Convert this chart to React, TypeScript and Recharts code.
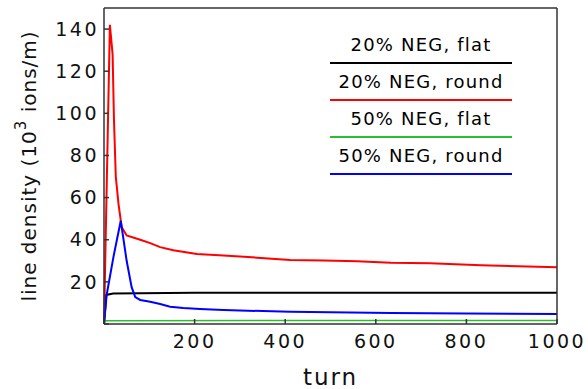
import React from "react";
import {
  LineChart,
  Line,
  XAxis,
  YAxis,
  Legend,
} from "recharts";

// values (turn, 10^3 ions/m)
const flat20Turn = [0, 5, 20, 200, 600, 1000];
const flat20Value = [0, 13.8, 14.5, 14.8, 14.8, 14.8];

const round20Turn = [0, 13, 19, 22, 26, 32, 39, 50, 80, 102, 124, 153, 205, 264, 338, 411, 485, 559, 633, 720, 832, 1000];
const round20Value = [0, 142, 128, 97, 70, 57, 46, 42, 40, 38.4, 36.5, 35, 33.2, 32.5, 31.5, 30.4, 30.2, 29.8, 29.1, 28.8, 27.9, 26.9];

const flat50Turn = [0, 3, 500, 1000];
const flat50Value = [0, 1.6, 1.7, 1.7];

const round50Turn = [0, 6, 21, 37, 50, 61, 69, 80, 102, 124, 146, 175, 212, 264, 411, 633, 800, 1000];
const round50Value = [0, 14, 32, 49, 30, 17.5, 12.8, 11.4, 10.6, 9.5, 8.2, 7.6, 7.1, 6.6, 5.8, 5.2, 5.0, 4.8];

const xTicks = [0, 200, 400, 600, 800, 1000];
const yTicks = [0, 20, 40, 60, 80, 100, 120, 140];

const toPoints = (turns: number[], values: number[]) =>
  turns.map((t, i) => ({ turn: t, value: values[i] }));

const series = [
  { name: "20% NEG, flat", color: "#000000", width: 2, data: toPoints(flat20Turn, flat20Value) },
  { name: "20% NEG, round", color: "#ff0000", width: 2, data: toPoints(round20Turn, round20Value) },
  { name: "50% NEG, flat", color: "#2dbe2d", width: 1.5, data: toPoints(flat50Turn, flat50Value) },
  { name: "50% NEG, round", color: "#0000ff", width: 2, data: toPoints(round50Turn, round50Value) },
];

const font = "'DejaVu Sans', sans-serif";
const frame = "#333";
const tickStyle = { fill: "#111", fontSize: 19, fontFamily: font, letterSpacing: 2.5 };
const hideZero = (v: number) => (v === 0 ? "" : String(v));
const blank = () => "";

const YLabel = (props: any) => {
  const { viewBox } = props;
  const cx = viewBox.x + 29;
  const cy = viewBox.y + viewBox.height / 2;
  return (
    <text
      x={cx}
      y={cy}
      transform={`rotate(-90, ${cx}, ${cy})`}
      textAnchor="middle"
      dominantBaseline="central"
      fontFamily={font}
      fontSize={20}
      letterSpacing={1}
      fill="#111"
    >
      line density (10
      <tspan dy={-8} fontSize={15}>3</tspan>
      <tspan dy={8}> ions/m)</tspan>
    </text>
  );
};

// legend rows: label centred above a coloured rule
const LegendBox = () => (
  <div style={{ width: 182, fontFamily: font, fontSize: 18, letterSpacing: 1.2, color: "#000" }}>
    {series.map((s) => (
      <div key={s.name}>
        <div
          style={{
            height: 35,
            display: "flex",
            alignItems: "center",
            justifyContent: "center",
          }}
        >
          {s.name}
        </div>
        <div style={{ height: 2, background: s.color }} />
      </div>
    ))}
  </div>
);

export default function App() {
  return (
    <div style={{ position: "absolute", left: 0, top: 0, background: "#fff" }}>
      <LineChart width={588} height={389} margin={{ top: 7, right: 30, left: 0, bottom: 0 }}>
        <XAxis
          dataKey="turn"
          type="number"
          domain={[0, 1000]}
          ticks={xTicks}
          tickFormatter={hideZero}
          tick={tickStyle}
          tickSize={-5}
          tickMargin={16}
          height={65}
          stroke={frame}
          strokeWidth={1.5}
          tickLine={{ stroke: frame }}
          label={{ value: "turn", position: "insideBottom", offset: 4, fontSize: 23, fontFamily: font, letterSpacing: 2, fill: "#111" }}
        />
        <XAxis
          xAxisId="top"
          orientation="top"
          dataKey="turn"
          type="number"
          domain={[0, 1000]}
          ticks={xTicks}
          tickFormatter={blank}
          tickSize={-5}
          height={1}
          stroke={frame}
          strokeWidth={1.5}
        />
        <YAxis
          type="number"
          domain={[0, 150]}
          ticks={yTicks}
          tickFormatter={hideZero}
          tick={tickStyle}
          tickSize={-5}
          tickMargin={10}
          width={104}
          stroke={frame}
          strokeWidth={1.5}
          label={{ content: <YLabel /> }}
        />
        <YAxis
          yAxisId="right"
          orientation="right"
          type="number"
          domain={[0, 150]}
          ticks={yTicks}
          tickFormatter={blank}
          tickSize={-5}
          width={1}
          stroke={frame}
          strokeWidth={1.5}
        />
        <Legend
          layout="vertical"
          align="center"
          verticalAlign="middle"
          content={<LegendBox />}
          wrapperStyle={{ top: 27, left: 330, width: 182 }}
        />
        {series.map((s) => (
          <Line
            key={s.name}
            data={s.data}
            dataKey="value"
            name={s.name}
            type="linear"
            stroke={s.color}
            strokeWidth={s.width}
            dot={false}
            isAnimationActive={false}
          />
        ))}
      </LineChart>
    </div>
  );
}
